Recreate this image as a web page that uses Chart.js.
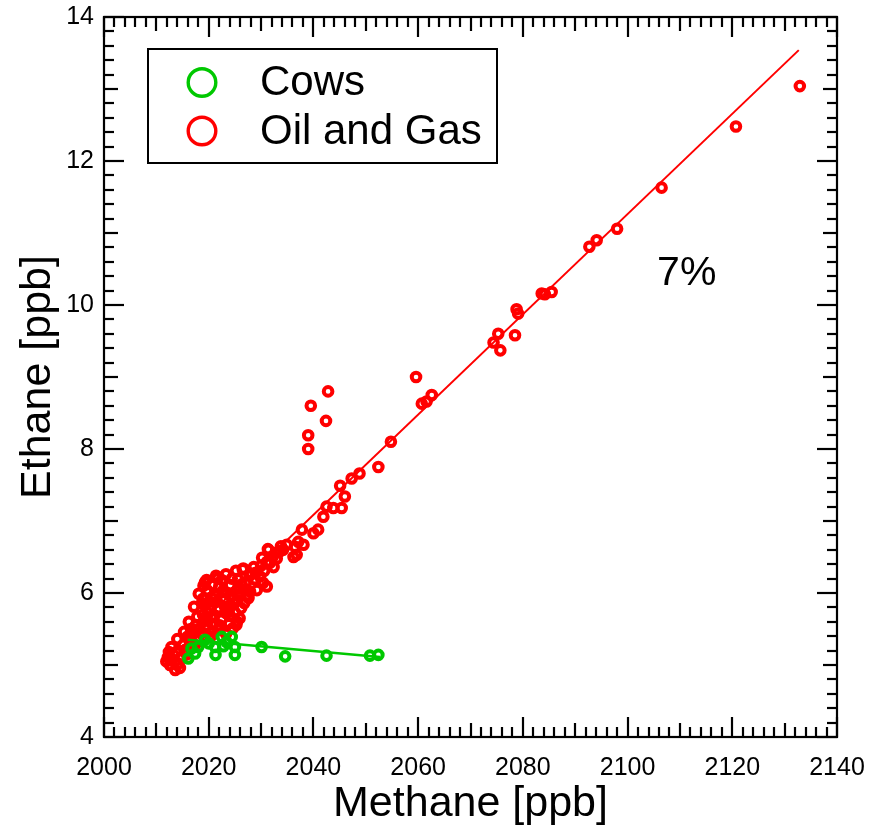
<!DOCTYPE html>
<html>
<head>
<meta charset="utf-8">
<title>Ethane vs Methane</title>
<script src="https://cdn.jsdelivr.net/npm/chart.js@4.4.1/dist/chart.umd.min.js"></script>
<style>
  html, body { margin: 0; padding: 0; background: #fff; }
  canvas { display: block; }
</style>
</head>
<body>
<canvas id="chart" width="875" height="831"></canvas>
<script>
// Oil and gas samples: methane [ppb] and ethane [ppb]
const oilGasMethane = [
  2132.9, 2120.7, 2106.5, 2098.0, 2094.1, 2092.7, 2085.5, 2084.2, 2083.6, 2079.1,
  2078.8, 2078.5, 2075.3, 2074.4, 2075.7, 2059.6, 2062.6, 2061.6, 2060.7, 2042.8,
  2039.5, 2042.4, 2039.0, 2039.0, 2054.8, 2052.4, 2048.8, 2047.3, 2045.1, 2046.0,
  2042.5, 2043.8, 2045.4, 2041.9, 2037.8, 2040.0, 2040.9, 2034.9, 2036.5, 2036.8,
  2034.2, 2037.1, 2038.1, 2036.2, 2031.4, 2033.0, 2031.1, 2026.6, 2024.4, 2029.8,
  2031.1, 2027.6, 2029.2, 2025.6, 2025.3, 2019.6,
  2012.2, 2012.6, 2013.6, 2014.5, 2014.9, 2013.8, 2013.0, 2015.5, 2012.4, 2015.1, 2017.4,
  2015.9, 2017.0, 2018.1, 2019.3, 2020.4, 2021.8, 2023.3, 2024.6,
  2016.2, 2017.8, 2019.1, 2021.0, 2022.5, 2024.1, 2025.4,
  2017.2, 2018.7, 2020.1, 2021.6, 2023.1, 2024.8, 2026.2,
  2018.1, 2019.7, 2021.2, 2022.7, 2024.3, 2025.8, 2027.3,
  2019.3, 2020.6, 2022.5, 2024.1, 2025.6, 2027.1, 2028.8, 2030.4,
  2021.4, 2023.3, 2026.5, 2028.6, 2030.6, 2030.2, 2031.7, 2031.3, 2032.8, 2033.8, 2025.2,
  2016.6, 2019.9, 2022.9, 2026.9, 2028.1, 2032.4, 2018.9, 2023.8,
  2016.8, 2018.5, 2020.9, 2022.1, 2023.9, 2019.7, 2017.5, 2018.9, 2020.6, 2023.3,
  2025.0, 2019.5, 2021.9, 2024.0, 2025.5, 2020.8, 2022.0, 2023.5, 2026.3, 2027.9,
  2029.0, 2027.8, 2030.0, 2032.2, 2033.6, 2018.0, 2016.4, 2014.0, 2015.3, 2025.9,
  2026.8, 2021.7, 2019.0, 2013.3, 2014.2, 2012.9, 2015.8, 2011.9
];
const oilGasEthane = [
  13.04, 12.48, 11.63, 11.06, 10.90, 10.81, 10.18, 10.15, 10.16, 9.88,
  9.94, 9.58, 9.60, 9.48, 9.37, 9.00, 8.75, 8.66, 8.63, 8.80,
  8.60, 8.39, 8.19, 8.00, 8.10, 7.75, 7.66, 7.59, 7.49, 7.34,
  7.20, 7.18, 7.18, 7.06, 6.88, 6.83, 6.88, 6.67, 6.64, 6.53,
  6.60, 6.71, 6.67, 6.50, 6.60, 6.48, 6.43, 6.34, 6.20, 6.23,
  6.09, 5.93, 6.04, 5.97, 5.56, 6.18,
  5.11, 5.00, 4.93, 4.96, 5.10, 5.18, 5.07, 5.21, 5.18, 5.28, 5.28,
  5.39, 5.47, 5.35, 5.51, 5.40, 5.49, 5.43, 5.51,
  5.60, 5.67, 5.61, 5.69, 5.63, 5.68, 5.60,
  5.81, 5.86, 5.78, 5.88, 5.81, 5.86, 5.79,
  5.99, 6.04, 5.96, 6.03, 5.96, 6.06, 5.97,
  6.15, 6.11, 6.18, 6.11, 6.19, 6.14, 6.19, 6.14,
  6.24, 6.26, 6.33, 6.36, 6.31, 6.49, 6.42, 6.61, 6.56, 6.65, 6.31,
  5.50, 5.72, 5.90, 6.05, 6.27, 6.36, 5.92, 5.74,
  5.42, 5.44, 5.46, 5.55, 5.58, 5.55, 5.55, 5.70, 5.66, 5.72,
  5.73, 5.85, 5.79, 5.80, 5.90, 5.92, 6.09, 6.00, 6.12, 6.02,
  6.28, 6.24, 6.38, 6.50, 6.58, 5.50, 5.33, 5.36, 5.46, 5.65,
  5.86, 6.20, 6.10, 5.14, 5.02, 5.25, 5.15, 5.05
];

// Cow samples
const cowsMethane = [
  2021.3, 2025.0, 2030.1, 2034.6, 2024.4, 2022.5, 2021.2, 2022.8, 2017.4, 2016.1,
  2019.3, 2018.0, 2016.7, 2025.0, 2023.4, 2042.5, 2050.8, 2052.4, 2020.0
];
const cowsEthane = [
  5.14, 5.14, 5.25, 5.12, 5.39, 5.39, 5.25, 5.26, 5.16, 5.09,
  5.35, 5.25, 5.23, 5.25, 5.32, 5.13, 5.13, 5.14, 5.30
];

// Linear fits (end points)
const oilGasFitMethane = [2012.5, 2132.7];
const oilGasFitEthane = [5.17, 13.54];
const cowsFitMethane = [2016.0, 2052.7];
const cowsFitEthane = [5.35, 5.11];

// Axis ticks
const methaneTicks = [2000, 2020, 2040, 2060, 2080, 2100, 2120, 2140];
const ethaneTicks = [4, 6, 8, 10, 12, 14];

const seriesNames = ['Cows', 'Oil and Gas'];
const slopeLabel = '7%';

const RED = '#ff0000';
const GREEN = '#00c800';
const FONT = '"Liberation Sans", Arial, sans-serif';

const pairs = (xs, ys) => xs.map((x, i) => ({ x, y: ys[i] }));

// Tick marks pointing inward on all four sides, plus the frame
const frameTicks = {
  id: 'frameTicks',
  afterDraw(chart) {
    const { ctx, chartArea: a, scales: { x, y } } = chart;
    ctx.save();
    ctx.strokeStyle = '#000';
    ctx.lineWidth = 2.2;
    ctx.lineCap = 'butt';
    const seg = (x1, y1, x2, y2) => { ctx.beginPath(); ctx.moveTo(x1, y1); ctx.lineTo(x2, y2); ctx.stroke(); };
    const xMin = methaneTicks[0], xMax = methaneTicks[methaneTicks.length - 1];
    for (let i = 0; i <= (xMax - xMin) / 2; i++) {
      const px = Math.round(x.getPixelForValue(xMin + i * 2));
      const len = i % 10 === 0 ? 20 : (i % 5 === 0 ? 14 : 10);
      seg(px, a.bottom, px, a.bottom - len);
      seg(px, a.top, px, a.top + len);
    }
    const yMin = ethaneTicks[0], yMax = ethaneTicks[ethaneTicks.length - 1];
    const nY = Math.round((yMax - yMin) / 0.2);
    for (let i = 0; i <= nY; i++) {
      const py = Math.round(y.getPixelForValue(yMin + i * 0.2));
      const len = i % 10 === 0 ? 20 : (i % 5 === 0 ? 14 : 10);
      seg(a.left, py, a.left + len, py);
      seg(a.right, py, a.right - len, py);
    }
    ctx.strokeRect(a.left, a.top, a.right - a.left, a.bottom - a.top);
    ctx.restore();
  }
};

// Boxed legend in the upper left and the slope annotation
const legendBox = {
  id: 'legendBox',
  afterDraw(chart) {
    const { ctx, scales: { x, y } } = chart;
    ctx.save();
    ctx.fillStyle = '#fff';
    ctx.fillRect(148, 49, 349, 114);
    ctx.strokeStyle = '#000';
    ctx.lineWidth = 2;
    ctx.strokeRect(148, 49, 349, 114);
    const entries = [chart.data.datasets[0], chart.data.datasets[1]];
    const rows = [82.5, 131];
    entries.forEach((ds, i) => {
      ctx.beginPath();
      ctx.arc(202, rows[i], 13.8, 0, Math.PI * 2);
      ctx.strokeStyle = ds.borderColor;
      ctx.lineWidth = 3.4;
      ctx.stroke();
      ctx.fillStyle = '#000';
      ctx.font = '42px ' + FONT;
      ctx.textBaseline = 'middle';
      ctx.textAlign = 'left';
      ctx.fillText(ds.label, 260, rows[i] + 1);
    });
    ctx.fillStyle = '#000';
    ctx.font = '41px ' + FONT;
    ctx.textAlign = 'center';
    ctx.textBaseline = 'middle';
    ctx.fillText(slopeLabel, x.getPixelForValue(2111.3), y.getPixelForValue(10.43));
    ctx.restore();
  }
};

new Chart(document.getElementById('chart'), {
  type: 'scatter',
  data: {
    datasets: [
      {
        label: seriesNames[0],
        data: pairs(cowsMethane, cowsEthane),
        borderColor: GREEN,
        backgroundColor: 'rgba(0,0,0,0)',
        borderWidth: 4,
        pointRadius: 4.3,
        pointBorderWidth: 4,
        order: 1
      },
      {
        label: seriesNames[1],
        data: pairs(oilGasMethane, oilGasEthane),
        borderColor: RED,
        backgroundColor: 'rgba(0,0,0,0)',
        borderWidth: 4,
        pointRadius: 4.3,
        pointBorderWidth: 4,
        order: 4
      },
      {
        label: 'Cows fit',
        data: pairs(cowsFitMethane, cowsFitEthane),
        showLine: true,
        borderColor: GREEN,
        borderWidth: 2.5,
        pointRadius: 0,
        order: 0
      },
      {
        label: 'Oil and Gas fit',
        data: pairs(oilGasFitMethane, oilGasFitEthane),
        showLine: true,
        borderColor: RED,
        borderWidth: 2,
        pointRadius: 0,
        order: 3
      }
    ]
  },
  options: {
    responsive: false,
    animation: false,
    devicePixelRatio: 1,
    layout: { padding: { top: 17, right: 38, left: 0, bottom: 0 } },
    plugins: {
      legend: { display: false },
      tooltip: { enabled: false }
    },
    scales: {
      x: {
        type: 'linear',
        min: methaneTicks[0],
        max: methaneTicks[methaneTicks.length - 1],
        afterBuildTicks: (s) => { s.ticks = methaneTicks.map(v => ({ value: v })); },
        grid: { display: false, drawTicks: false },
        border: { display: false },
        ticks: {
          color: '#000',
          padding: 16,
          maxRotation: 0,
          font: { family: FONT, size: 25 },
          callback: (v) => String(v)
        },
        title: {
          display: true,
          text: 'Methane [ppb]',
          color: '#000',
          font: { family: FONT, size: 43 },
          padding: { top: 0, bottom: 1 }
        },
        afterFit: (s) => { s.height = 94; s.paddingLeft = 0; s.paddingRight = 0; }
      },
      y: {
        type: 'linear',
        min: ethaneTicks[0],
        max: ethaneTicks[ethaneTicks.length - 1],
        afterBuildTicks: (s) => { s.ticks = ethaneTicks.map(v => ({ value: v })); },
        grid: { display: false, drawTicks: false },
        border: { display: false },
        ticks: {
          color: '#000',
          padding: 10,
          font: { family: FONT, size: 25 },
          callback: (v) => String(v)
        },
        title: {
          display: true,
          text: 'Ethane [ppb]',
          color: '#000',
          font: { family: FONT, size: 43 },
          padding: { top: 12, bottom: 0 }
        },
        afterFit: (s) => { s.width = 104; s.paddingTop = 0; s.paddingBottom = 0; }
      }
    }
  },
  plugins: [frameTicks, legendBox]
});
</script>
</body>
</html>
